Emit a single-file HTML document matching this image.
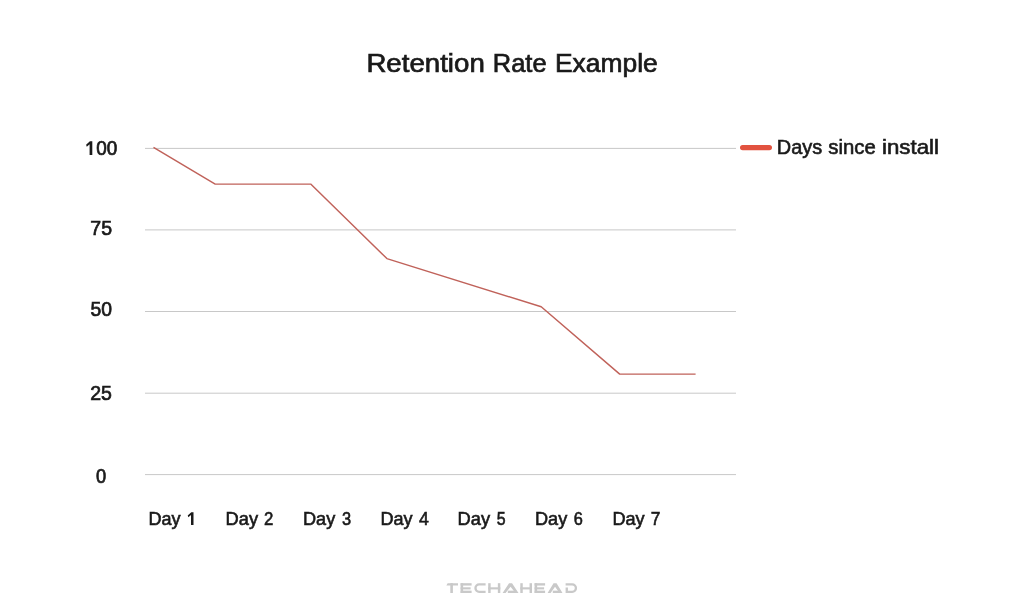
<!DOCTYPE html>
<html><head><meta charset="utf-8">
<style>
html,body{margin:0;padding:0;background:#fff;}
body{width:1024px;height:609px;position:relative;overflow:hidden;}
svg{position:absolute;left:0;top:0;filter:blur(0.35px);}
.t{font-family:"Liberation Sans",sans-serif;fill:#1a1a1a;stroke:#1a1a1a;}
</style></head><body>
<svg width="1024" height="609" viewBox="0 0 1024 609">
<g stroke="#c8c8c8" stroke-width="1">
<line x1="145" y1="148.40" x2="736" y2="148.40"/>
<line x1="145" y1="229.90" x2="736" y2="229.90"/>
<line x1="145" y1="311.50" x2="736" y2="311.50"/>
<line x1="145" y1="393.20" x2="736" y2="393.20"/>
<line x1="145" y1="474.60" x2="736" y2="474.60"/>
</g>
<polyline fill="none" stroke="#c0625a" stroke-width="1.45" stroke-linejoin="round" stroke-linecap="butt" points="153.50,147.30 215.20,184.10 310.70,184.10 386.90,258.60 541.20,306.80 619.70,374.10 695.60,374.10"/>
<rect x="740" y="144.9" width="32" height="5.4" rx="2.7" fill="#e2523f"/>
<g fill="#c9c9c9"><polygon points="447.6,583.2 458,583.2 458,585.5500000000001 446.4,585.5500000000001"/><rect x="450.30" y="583.20" width="2.60" height="9.80"/><rect x="460.60" y="583.20" width="2.55" height="9.80"/><rect x="460.60" y="583.20" width="11.00" height="2.35"/><rect x="460.60" y="587.30" width="10.00" height="2.10"/><rect x="460.60" y="590.65" width="11.00" height="2.35"/><path d="M485.6,583.2 L479.2,583.2 A4.9,4.9 0 0 0 479.2,593.0 L485.6,593.0 L485.6,590.65 L479.2,590.65 A2.55,2.55 0 0 1 479.2,585.5500000000001 L485.6,585.5500000000001 Z"/><rect x="488.20" y="583.20" width="2.45" height="9.80"/><rect x="497.85" y="583.20" width="2.45" height="9.80"/><rect x="488.20" y="587.30" width="12.10" height="2.10"/><polygon points="502.60,593.0 509.05,583.2 512.05,583.2 518.50,593.0 515.50,593.0 510.55,586.80 505.60,593.0"/><rect x="507.80" y="590.65" width="8.70" height="2.35"/><rect x="520.30" y="583.20" width="2.45" height="9.80"/><rect x="529.55" y="583.20" width="2.45" height="9.80"/><rect x="520.30" y="587.30" width="11.70" height="2.10"/><rect x="534.60" y="583.20" width="2.55" height="9.80"/><rect x="534.60" y="583.20" width="10.50" height="2.35"/><rect x="534.60" y="587.30" width="9.50" height="2.10"/><rect x="534.60" y="590.65" width="10.50" height="2.35"/><polygon points="547.60,593.0 553.55,583.2 556.55,583.2 562.50,593.0 559.50,593.0 555.05,586.80 550.60,593.0"/><rect x="552.80" y="590.65" width="7.70" height="2.35"/><path d="M565.6,583.2 L572.2,583.2 A4.9,4.9 0 0 1 572.2,593.0 L565.6,593.0 L565.6,587.4 L567.95,587.4 L567.95,590.65 L572.2,590.65 A2.55,2.55 0 0 0 572.2,585.5500000000001 L565.6,585.5500000000001 Z"/></g>
<g fill="#1a1a1a"><polygon points="193.50,512.20 193.50,525.00 191.00,525.00 191.00,515.02 188.40,517.32 187.70,515.40 191.30,512.20"/><polygon points="92.30,141.20 92.30,155.00 89.60,155.00 89.60,144.24 86.80,146.72 86.10,144.65 89.90,141.20"/></g>
<text class="t" transform="translate(366.39,72) scale(1.0809,1.0000)" font-size="25.60" stroke-width="0.7">Retention</text>
<text class="t" transform="translate(492.80,72) scale(0.9950,1.0000)" font-size="25.60" stroke-width="0.7">Rate</text>
<text class="t" transform="translate(554.98,72) scale(1.0318,1.0000)" font-size="25.60" stroke-width="0.7">Example</text>
<text class="t" transform="translate(96.33,155) scale(0.9572,1.0000)" font-size="19.80" stroke-width="0.7">00</text>
<text class="t" transform="translate(90.25,235) scale(0.9885,1.0000)" font-size="19.80" stroke-width="0.7">75</text>
<text class="t" transform="translate(90.51,316) scale(0.9765,1.0000)" font-size="19.80" stroke-width="0.7">50</text>
<text class="t" transform="translate(90.26,400) scale(0.9861,1.0000)" font-size="19.80" stroke-width="0.7">25</text>
<text class="t" transform="translate(96.04,483) scale(0.9235,1.0000)" font-size="19.80" stroke-width="0.7">0</text>
<text class="t" transform="translate(148.41,525) scale(0.9866,1.0000)" font-size="18.30" stroke-width="0.6">Day</text>
<text class="t" transform="translate(225.56,525) scale(0.9978,1.0000)" font-size="18.30" stroke-width="0.6">Day</text>
<text class="t" transform="translate(263.95,525) scale(0.9201,1.0000)" font-size="18.30" stroke-width="0.6">2</text>
<text class="t" transform="translate(303.00,525) scale(0.9912,1.0000)" font-size="18.30" stroke-width="0.6">Day</text>
<text class="t" transform="translate(341.98,525) scale(0.8959,1.0000)" font-size="18.30" stroke-width="0.6">3</text>
<text class="t" transform="translate(380.41,525) scale(0.9862,1.0000)" font-size="18.30" stroke-width="0.6">Day</text>
<text class="t" transform="translate(418.92,525) scale(0.9683,1.0000)" font-size="18.30" stroke-width="0.6">4</text>
<text class="t" transform="translate(457.56,525) scale(0.9988,1.0000)" font-size="18.30" stroke-width="0.6">Day</text>
<text class="t" transform="translate(496.77,525) scale(0.8695,1.0000)" font-size="18.30" stroke-width="0.6">5</text>
<text class="t" transform="translate(535.00,525) scale(0.9901,1.0000)" font-size="18.30" stroke-width="0.6">Day</text>
<text class="t" transform="translate(573.82,525) scale(0.8942,1.0000)" font-size="18.30" stroke-width="0.6">6</text>
<text class="t" transform="translate(612.41,525) scale(0.9912,1.0000)" font-size="18.30" stroke-width="0.6">Day</text>
<text class="t" transform="translate(650.77,525) scale(0.9534,1.0000)" font-size="18.30" stroke-width="0.6">7</text>
<text class="t" transform="translate(776.78,154) scale(1.0063,1.0000)" font-size="19.80" stroke-width="0.6">Days</text>
<text class="t" transform="translate(828.36,154) scale(1.0258,1.0000)" font-size="19.80" stroke-width="0.6">since</text>
<text class="t" transform="translate(882.06,154) scale(1.1232,1.0000)" font-size="19.80" stroke-width="0.6">install</text>
</svg>
</body></html>
